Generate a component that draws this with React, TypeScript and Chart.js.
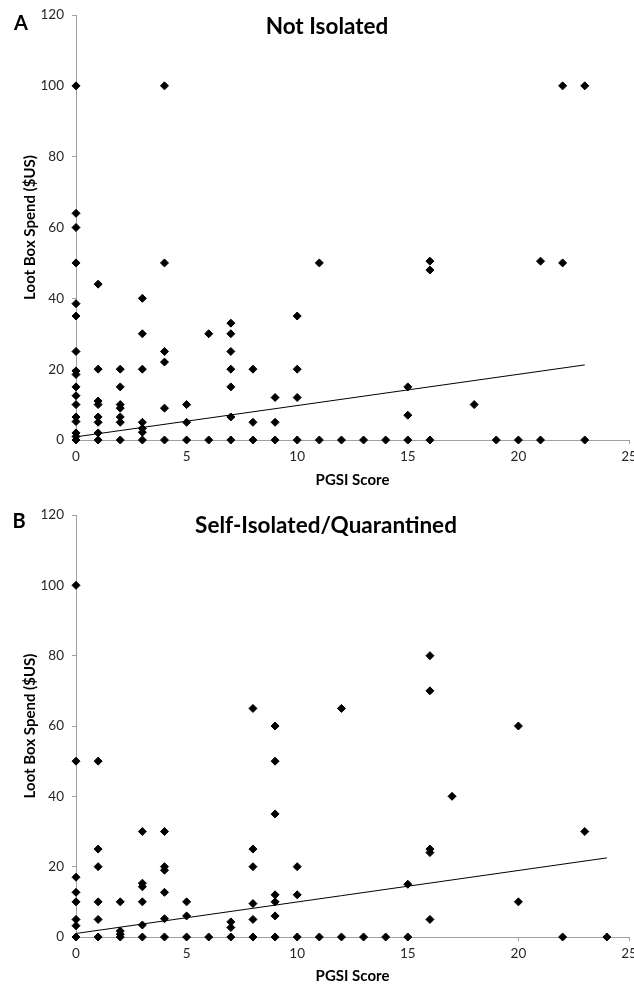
import React, { useEffect, useRef } from "react";
import { Chart, registerables } from "chart.js";

Chart.register(...registerables);

// Panel A: Not Isolated
const pgsiA = [
  0, 0, 0, 0, 0, 0, 0, 0, 0, 0, 0, 0, 0, 0, 0, 0, 0,
  1, 1, 1, 1, 1, 1, 1, 1,
  2, 2, 2, 2, 2, 2, 2,
  3, 3, 3, 3, 3, 3, 3,
  4, 4, 4, 4, 4, 4,
  5, 5, 5,
  6, 6,
  7, 7, 7, 7, 7, 7, 7,
  8, 8, 8,
  9, 9, 9,
  10, 10, 10, 10,
  11, 11,
  12, 13, 14,
  15, 15, 15,
  16, 16, 16,
  18, 19, 20,
  21, 21,
  22, 22,
  23, 23,
];
const spendA = [
  100, 64, 60, 50, 38.5, 35, 25, 19.5, 18.5, 15, 12.5, 10, 6.5, 5.2, 2, 1, 0,
  44, 20, 11, 10, 6.5, 5, 2, 0,
  20, 15, 10, 9, 6.5, 5, 0,
  40, 30, 20, 5, 3.3, 2.2, 0,
  100, 50, 25, 22, 9, 0,
  10, 5, 0,
  30, 0,
  33, 30, 25, 20, 15, 6.5, 0,
  20, 5, 0,
  12, 5, 0,
  35, 20, 12, 0,
  50, 0,
  0, 0, 0,
  15, 7, 0,
  50.5, 48, 0,
  10, 0, 0,
  50.5, 0,
  100, 50,
  100, 0,
];
const trendAX = [0, 23];
const trendAY = [0.9, 21.2];

// Panel B: Self-Isolated/Quarantined
const pgsiB = [
  0, 0, 0, 0, 0, 0, 0, 0,
  1, 1, 1, 1, 1, 1,
  2, 2, 2, 2,
  3, 3, 3, 3, 3, 3,
  4, 4, 4, 4, 4, 4,
  5, 5, 5,
  6,
  7, 7, 7,
  8, 8, 8, 8, 8, 8,
  9, 9, 9, 9, 9, 9, 9,
  10, 10, 10,
  11,
  12, 12,
  13, 14,
  15, 15,
  16, 16, 16, 16, 16,
  17,
  20, 20,
  22, 23, 24,
];
const spendB = [
  100, 50, 17, 12.7, 10, 5, 3.2, 0,
  50, 25, 20, 10, 5, 0,
  10, 1.7, 0.8, 0,
  30, 15.3, 14.3, 10, 3.4, 0,
  30, 20, 19, 12.7, 5.2, 0,
  10, 6, 0,
  0,
  4.3, 2.7, 0,
  65, 25, 20, 9.5, 5, 0,
  60, 50, 35, 12, 10, 6, 0,
  20, 12, 0,
  0,
  65, 0,
  0, 0,
  15, 0,
  80, 70, 25, 24, 5,
  40,
  60, 10,
  0, 30, 0,
];
const trendBX = [0, 24];
const trendBY = [1.0, 22.5];

const xTicks = [0, 5, 10, 15, 20, 25];
const yTicks = [0, 20, 40, 60, 80, 100, 120];

const FONT = "Lato, 'Open Sans', sans-serif";

const panelPlugin = {
  id: "panelText",
  afterDraw(chart: any, _args: any, opts: any) {
    const ctx = chart.ctx;
    ctx.save();
    ctx.fillStyle = "#000";
    ctx.textAlign = "center";
    ctx.textBaseline = "alphabetic";
    ctx.font = `bold 22.5px ${FONT}`;
    ctx.fillText(opts.title, opts.titleX, opts.titleY);
    ctx.font = `bold 20px ${FONT}`;
    ctx.fillText(opts.letter, opts.letterX, opts.letterY);
    ctx.restore();
  },
};

function makeConfig(
  xs: number[],
  ys: number[],
  tx: number[],
  ty: number[],
  height: number,
  top: number,
  bottom: number,
  right: number,
  titleBottomPad: number,
  text: any
) {
  const pts = xs.map((x, i) => ({ x, y: ys[i] }));
  const trend = tx.map((x, i) => ({ x, y: ty[i] }));
  return {
    type: "scatter" as const,
    data: {
      datasets: [
        {
          data: trend,
          showLine: true,
          borderColor: "#000",
          borderWidth: 1,
          pointRadius: 0,
          order: 0,
        },
        {
          data: pts,
          pointStyle: "rectRot",
          pointRadius: 4,
          pointBorderWidth: 1,
          backgroundColor: "#000",
          borderColor: "#000",
          clip: false,
          order: 1,
        },
      ],
    },
    plugins: [panelPlugin],
    options: {
      animation: false,
      responsive: false,
      maintainAspectRatio: false,
      events: [],
      layout: { padding: { left: 0, right: 634 - right, top: top, bottom: 0 } },
      plugins: {
        legend: { display: false },
        tooltip: { enabled: false },
        title: { display: false },
        panelText: text,
      },
      scales: {
        x: {
          type: "linear",
          min: 0,
          max: 25,
          afterBuildTicks: (s: any) => {
            s.ticks = xTicks.map((v) => ({ value: v }));
          },
          afterFit: (s: any) => {
            s.height = height - bottom;
            s.paddingLeft = 0;
            s.paddingRight = 0;
          },
          grid: {
            drawOnChartArea: false,
            drawTicks: true,
            tickLength: 4,
            color: "#a0a0a0",
          },
          border: { display: true, color: "#a0a0a0", width: 1 },
          ticks: {
            padding: 5,
            color: "#262626",
            font: { family: FONT, size: 13.5 },
            maxRotation: 0,
          },
          title: {
            display: true,
            text: "PGSI Score",
            color: "#000",
            font: { family: FONT, size: 15, weight: "bold" },
            padding: { top: 0, bottom: titleBottomPad },
          },
        },
        y: {
          type: "linear",
          min: 0,
          max: 120,
          afterBuildTicks: (s: any) => {
            s.ticks = yTicks.map((v) => ({ value: v }));
          },
          afterFit: (s: any) => {
            s.width = 76;
            s.paddingTop = 0;
            s.paddingBottom = 0;
          },
          grid: {
            drawOnChartArea: false,
            drawTicks: true,
            tickLength: 4,
            color: "#a0a0a0",
          },
          border: { display: true, color: "#a0a0a0", width: 1 },
          ticks: {
            padding: 8,
            color: "#262626",
            font: { family: FONT, size: 13.5 },
          },
          title: {
            display: true,
            text: "Loot Box Spend ($US)",
            color: "#000",
            font: { family: FONT, size: 15, weight: "bold" },
            padding: { top: 21, bottom: 0 },
          },
        },
      },
    },
  };
}

function Panel(props: { cfg: any; width: number; height: number; top: number }) {
  const ref = useRef<HTMLCanvasElement | null>(null);
  useEffect(() => {
    if (!ref.current) return;
    const chart = new Chart(ref.current, props.cfg);
    return () => chart.destroy();
  }, []);
  return (
    <div style={{ position: "absolute", left: 0, top: props.top, width: props.width, height: props.height }}>
      <canvas ref={ref} width={props.width} height={props.height} style={{ display: "block" }} />
    </div>
  );
}

export default function App() {
  useEffect(() => {
    document.body.style.margin = "0";
  }, []);
  const cfgA = makeConfig(pgsiA, spendA, trendAX, trendAY, 490, 15, 440, 630, 1, {
    title: "Not Isolated",
    titleX: 327,
    titleY: 33.5,
    letter: "A",
    letterX: 21,
    letterY: 30,
  });
  const cfgB = makeConfig(pgsiB, spendB, trendBX, trendBY, 497, 25, 447, 629, 1.5, {
    title: "Self-Isolated/Quarantined",
    titleX: 326,
    titleY: 43,
    letter: "B",
    letterX: 19,
    letterY: 38,
  });
  return (
    <div style={{ position: "absolute", left: 0, top: 0, width: 634, height: 987, background: "#fff" }}>
      <Panel cfg={cfgA} width={634} height={490} top={0} />
      <Panel cfg={cfgB} width={634} height={497} top={490} />
    </div>
  );
}
